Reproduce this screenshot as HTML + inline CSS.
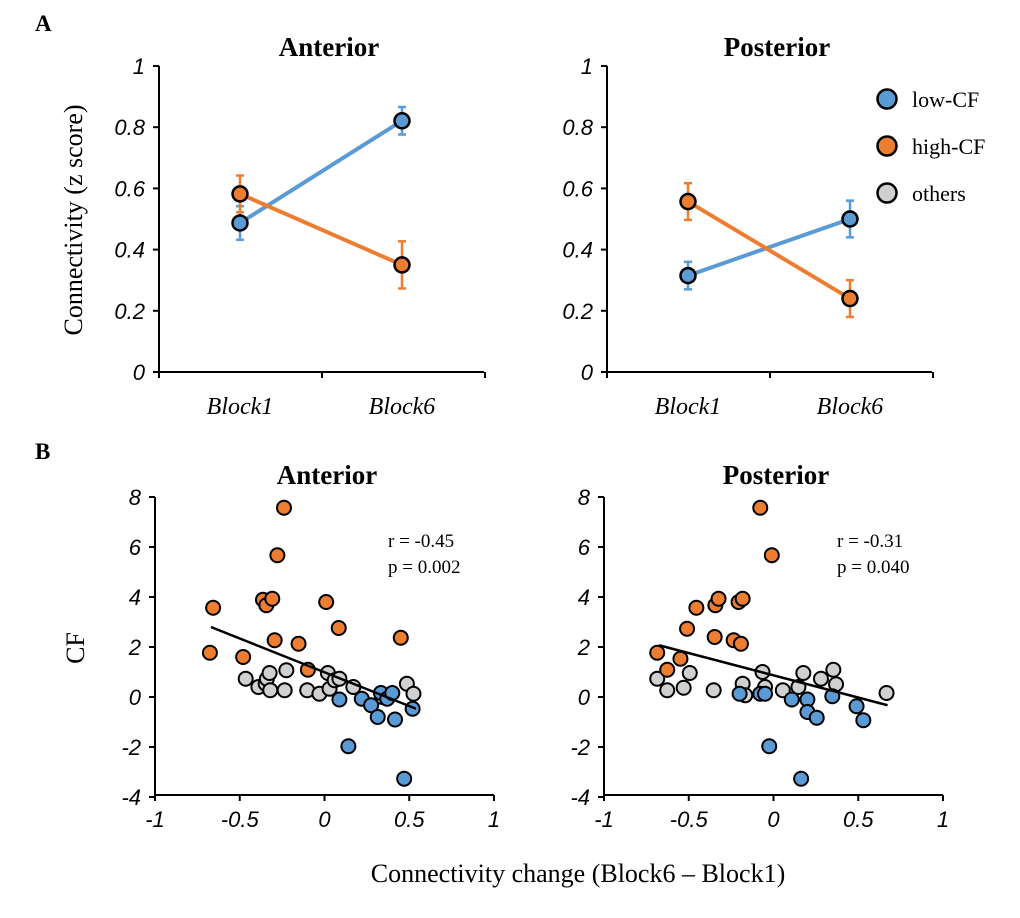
<!DOCTYPE html>
<html><head><meta charset="utf-8">
<style>
html,body{margin:0;padding:0;background:#fff;}
svg{display:block;}
.serif{font-family:"Liberation Serif",serif;}
.sans{font-family:"Liberation Sans",sans-serif;}
</style></head>
<body>
<svg id="fig" width="1020" height="918" viewBox="0 0 1020 918" xmlns="http://www.w3.org/2000/svg"></svg>
<script>
// ---- Panel A data ----
const blocks = ["Block1","Block6"];
const antLow = [0.487, 0.821];
const antLowErr = [0.055, 0.045];
const antHigh = [0.582, 0.35];
const antHighErr = [0.06, 0.077];
const postLow = [0.315, 0.50];
const postLowErr = [0.045, 0.06];
const postHigh = [0.557, 0.24];
const postHighErr = [0.06, 0.06];
const aTicks = [0, 0.2, 0.4, 0.6, 0.8, 1];
// ---- Panel B data ----
const antOrangeX = [-0.657,-0.676,-0.48,-0.363,-0.343,-0.308,-0.278,-0.239,-0.294,-0.153,0.01,0.084,-0.098,0.45];
const antOrangeY = [3.57,1.77,1.6,3.89,3.67,3.93,5.67,7.57,2.27,2.13,3.8,2.76,1.09,2.37];
const antGrayX = [-0.465,-0.39,-0.347,-0.34,-0.324,-0.32,-0.235,-0.225,-0.102,-0.03,0.02,0.03,0.06,0.088,0.17,0.486,0.525,0.34];
const antGrayY = [0.73,0.4,0.53,0.73,0.96,0.27,0.27,1.07,0.27,0.13,0.96,0.33,0.67,0.73,0.4,0.53,0.13,0];
const antBlueX = [0.088,0.22,0.275,0.314,0.333,0.37,0.4,0.416,0.52,0.141,0.47];
const antBlueY = [-0.1,-0.07,-0.33,-0.8,0.16,-0.07,0.16,-0.9,-0.47,-1.97,-3.27];
const antFit = [[-0.67,2.8],[0.54,-0.47]];
const postOrangeX = [-0.078,-0.01,-0.686,-0.627,-0.549,-0.51,-0.455,-0.343,-0.324,-0.347,-0.206,-0.182,-0.235,-0.192];
const postOrangeY = [7.57,5.67,1.77,1.09,1.53,2.73,3.57,3.67,3.93,2.4,3.8,3.93,2.27,2.13];
const postGrayX = [-0.686,-0.627,-0.53,-0.494,-0.353,-0.182,-0.167,-0.065,-0.05,0.055,0.147,0.176,0.28,0.353,0.369,0.667];
const postGrayY = [0.73,0.27,0.37,0.96,0.27,0.53,0.07,1,0.4,0.27,0.4,0.96,0.73,1.09,0.51,0.16];
const postBlueX = [-0.2,-0.078,-0.05,0.108,0.2,0.2,0.255,0.347,0.49,0.53,-0.025,0.163];
const postBlueY = [0.13,0.13,0.13,-0.1,-0.1,-0.6,-0.83,0.03,-0.37,-0.93,-1.97,-3.27];
const postFit = [[-0.676,2.07],[0.673,-0.33]];
const bXTicks = [-1,-0.5,0,0.5,1];
const bYTicks = [-4,-2,0,2,4,6,8];

const BLUE="#5b9bd5", ORANGE="#ed7d31", GRAY="#d0d0d0";
const svg=document.getElementById('fig');
const NS="http://www.w3.org/2000/svg";
function el(tag,attrs,parent){const e=document.createElementNS(NS,tag);for(const k in attrs)e.setAttribute(k,attrs[k]);(parent||svg).appendChild(e);return e;}
function txt(s,x,y,attrs,parent){const t=el('text',Object.assign({x:x,y:y},attrs),parent);t.textContent=s;return t;}

function panelA(name,ax0,title,low,lowE,high,highE){
  const g=el('g',{});
  
  
  const y0=372,y1=66,xEnd=ax0+325;
  const Y=v=>y0-v*(y0-y1);
  const X=i=>ax0+81+i*162;
  el('line',{x1:ax0,y1:y1,x2:ax0,y2:y0,stroke:'#000','stroke-width':2},g);
  el('line',{x1:ax0,y1:y0,x2:xEnd,y2:y0,stroke:'#000','stroke-width':2},g);
  [0,1,2].forEach(i=>el('line',{x1:ax0+i*163,y1:y0,x2:ax0+i*163,y2:y0+6,stroke:'#000','stroke-width':2},g));
  aTicks.forEach(v=>{
    el('line',{x1:ax0-6,y1:Y(v),x2:ax0,y2:Y(v),stroke:'#000','stroke-width':2},g);
    const t=txt(String(v),ax0-14,Y(v)+8,{'text-anchor':'end','font-size':22,'font-style':'italic',class:'sans'},g);
    
    
  });
  blocks.forEach((b,i)=>{
    const t=txt(b,X(i),414,{'text-anchor':'middle','font-size':24,'font-style':'italic',class:'serif'},g);
    
    
  });
  const tt=txt(title,ax0+170,56,{'text-anchor':'middle','font-size':27,'font-weight':'bold',class:'serif'},g);
  
  
  [[low,lowE,BLUE,'low-cf'],[high,highE,ORANGE,'high-cf']].forEach(([vals,errs,c,n])=>{
    const l=el('line',{x1:X(0),y1:Y(vals[0]),x2:X(1),y2:Y(vals[1]),stroke:c,'stroke-width':4},g);
    
    
    vals.forEach((v,i)=>{
      el('line',{x1:X(i),y1:Y(v-errs[i]),x2:X(i),y2:Y(v+errs[i]),stroke:c,'stroke-width':2.5},g);
      el('line',{x1:X(i)-4,y1:Y(v-errs[i]),x2:X(i)+4,y2:Y(v-errs[i]),stroke:c,'stroke-width':2.5},g);
      el('line',{x1:X(i)-4,y1:Y(v+errs[i]),x2:X(i)+4,y2:Y(v+errs[i]),stroke:c,'stroke-width':2.5},g);
    });
  });
  [[low,BLUE,'low-cf'],[high,ORANGE,'high-cf']].forEach(([vals,c,n])=>{
    vals.forEach((v,i)=>{
      const p=el('circle',{cx:X(i),cy:Y(v),r:7.5,fill:c,stroke:'#000','stroke-width':2.5},g);
      
      
    });
  });
}
panelA('anterior',159,'Anterior',antLow,antLowErr,antHigh,antHighErr);
panelA('posterior',607,'Posterior',postLow,postLowErr,postHigh,postHighErr);

function panelB(name,ax0,title,ox,oy,gx,gy,bx,by,fit,r,p){
  const g=el('g',{});
  
  
  const y0=795,yTop=497,xw=339;
  const X=v=>ax0+(v+1)/2*xw;
  const Y=v=>697-v*25;
  el('line',{x1:ax0,y1:yTop,x2:ax0,y2:y0,stroke:'#000','stroke-width':2},g);
  el('line',{x1:ax0,y1:y0,x2:ax0+xw,y2:y0,stroke:'#000','stroke-width':2},g);
  bYTicks.forEach(v=>{
    el('line',{x1:ax0-6,y1:Y(v),x2:ax0,y2:Y(v),stroke:'#000','stroke-width':2},g);
    const t=txt(String(v),ax0-14,Y(v)+8,{'text-anchor':'end','font-size':22,'font-style':'italic',class:'sans'},g);
    
    
  });
  bXTicks.forEach(v=>{
    el('line',{x1:X(v),y1:y0,x2:X(v),y2:y0+6,stroke:'#000','stroke-width':2},g);
    const t=txt(String(v),X(v),y0+32,{'text-anchor':'middle','font-size':22,'font-style':'italic',class:'sans'},g);
    
    
  });
  const tt=txt(title,ax0+172,484,{'text-anchor':'middle','font-size':27,'font-weight':'bold',class:'serif'},g);
  
  
  [[gx,gy,GRAY,'others'],[ox,oy,ORANGE,'high-cf'],[bx,by,BLUE,'low-cf']].forEach(([xs,ys,c,n])=>{
    xs.forEach((v,i)=>{
      const pt=el('circle',{cx:X(v),cy:Y(ys[i]),r:7,fill:c,stroke:'#000','stroke-width':2},g);
      
      
    });
  });
  const fl=el('line',{x1:X(fit[0][0]),y1:Y(fit[0][1]),x2:X(fit[1][0]),y2:Y(fit[1][1]),stroke:'#000','stroke-width':2.5},g);
  
  
  const s1=txt(r,ax0+233,547,{'font-size':19,class:'serif'},g);
  
  
  const s2=txt(p,ax0+233,573,{'font-size':19,class:'serif','xml:space':'preserve'},g);
  
  
}
panelB('anterior',155,'Anterior',antOrangeX,antOrangeY,antGrayX,antGrayY,antBlueX,antBlueY,antFit,'r = -0.45','p  = 0.002');
panelB('posterior',604,'Posterior',postOrangeX,postOrangeY,postGrayX,postGrayY,postBlueX,postBlueY,postFit,'r = -0.31','p  = 0.040');

let t;
t=txt('A',35,31,{'font-size':23,'font-weight':'bold',class:'serif'});


t=txt('B',35,459,{'font-size':23,'font-weight':'bold',class:'serif'});


t=txt('Connectivity (z score)',82,220,{'text-anchor':'middle','font-size':26,class:'serif',transform:'rotate(-90 82 220)'});


t=txt('CF',84,648,{'text-anchor':'middle','font-size':26,class:'serif',transform:'rotate(-90 84 648)'});


t=txt('Connectivity change (Block6 \u2013 Block1)',578,882,{'text-anchor':'middle','font-size':26,class:'serif'});



const legend=el('g',{});


[['low-CF',BLUE,99],['high-CF',ORANGE,146],['others',GRAY,193]].forEach(([lab,c,y])=>{
  const e=el('g',{},legend);
  
  
  el('circle',{cx:887,cy:y,r:9.5,fill:c,stroke:'#000','stroke-width':2.5},e);
  txt(lab,912,y+8,{'font-size':22,class:'serif'},e);
});
</script>
</body></html>
